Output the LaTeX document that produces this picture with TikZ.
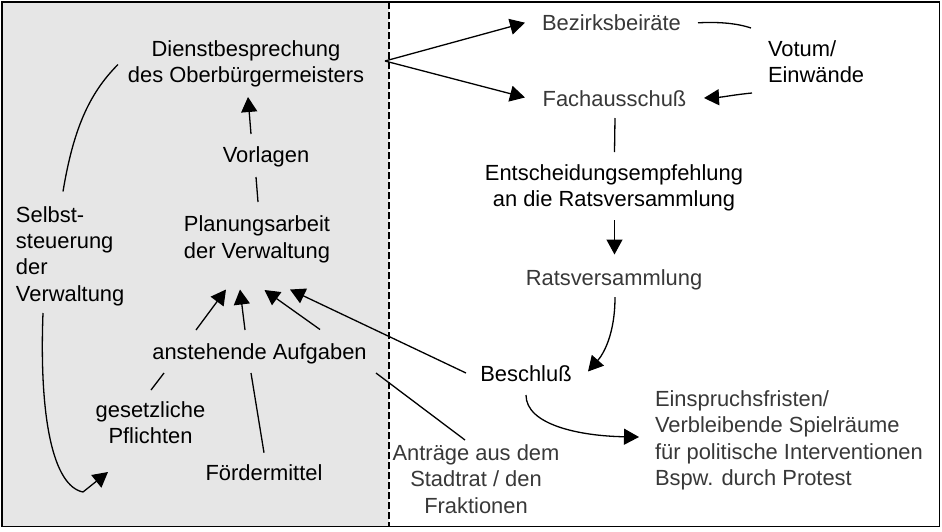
\documentclass[tikz,border=0pt]{standalone}
\usepackage{fontspec}
\setmainfont{Liberation Sans}
\usetikzlibrary{arrows.meta}
\definecolor{panelgray}{HTML}{E6E6E6}
\definecolor{softtext}{HTML}{383838}
\begin{document}
\begin{tikzpicture}[x=1pt,y=-1pt,
  every node/.style={inner sep=0pt,outer sep=0pt,font=\fontsize{21.9}{26.3}\selectfont},
  lbl/.style={align=center,anchor=center},
  lblleft/.style={align=left,anchor=west},
  soft/.style={text=softtext},
  conn/.style={line width=1.3pt,draw=black},
  arr/.style={conn,-{Triangle[length=15pt,width=16pt]}},
]
\useasboundingbox (0,0) rectangle (942,531);
\fill[panelgray] (2,2) rectangle (389,526.5);
\draw[line width=1.2pt,dash pattern=on 7pt off 3pt] (389,2) -- (389,526.5);
\draw[line width=1.6pt] (2,2) rectangle (939.5,526.5);

% left panel nodes
\node[lbl] (dienst) at (246,63.5) {Dienstbesprechung\\des Oberbürgermeisters};
\node[lbl] (vorl) at (266,156.5) {Vorlagen};
\node[lbl] (plan) at (257,239.3) {Planungsarbeit\\der Verwaltung};
\node[lblleft] (selbst) at (16,256) {Selbst-\\steuerung\\der\\Verwaltung};
\node[lbl] (aufg) at (259.5,353.8) {anstehende Aufgaben};
\node[lbl] (gesetz) at (150.5,423) {gesetzliche\\Pflichten};
\node[lbl] (foerder) at (264,472.8) {Fördermittel};

% right panel nodes
\node[lbl,soft] (bezirk) at (611.5,22.3) {Bezirksbeiräte};
\node[lblleft] (votum) at (768,61.4) {Votum/\\Einwände};
\node[lbl,soft] (fach) at (614.5,98.3) {Fachausschuß};
\node[lbl] (entsch) at (614,187.5) {Entscheidungsempfehlung\\an die Ratsversammlung};
\node[lbl,soft] (rats) at (614,279.5) {Ratsversammlung};
\node[lbl] (beschl) at (526,373.3) {Beschluß};
\node[lblleft,soft] (einspr) at (655,440.3) {Einspruchsfristen/\\Verbleibende Spielräume\\für politische Interventionen\\Bspw. durch Protest};
\node[lbl,soft] (antr) at (476,479) {Anträge aus dem\\Stadtrat / den\\Fraktionen};

\coordinate (split) at ([shift={(139,-2.5)}]dienst.center);

% connectors right
\draw[arr] (split) -- ([shift={(-86.5,0.4)}]bezirk.center);
\draw[arr] (split) -- ([shift={(-89.5,-0.8)}]fach.center);
\draw[conn] ([shift={(86.5,0.5)}]bezirk.center) .. controls +(20,-1) and +(-15,-5) .. ([shift={(-17,-33.4)}]votum.west);
\draw[arr] ([shift={(-16,31.6)}]votum.west) .. controls +(-20,2) and +(20,-1) .. ([shift={(89.5,-0.3)}]fach.center);
\draw[conn] ([shift={(0.5,19.7)}]fach.center) -- ([shift={(0.5,-35.5)}]entsch.center);
\draw[arr] ([shift={(0.5,32.5)}]entsch.center) -- ([shift={(0.5,-25)}]rats.center);
\draw[arr] ([shift={(1,17.5)}]rats.center) .. controls +(0,38) and +(15,-17) .. ([shift={(62,-1.8)}]beschl.center);
\draw[arr] ([shift={(0,21.7)}]beschl.center) .. controls +(0,30) and +(-59,-1) .. ([shift={(-16,-3.3)}]einspr.west);
\draw[arr] ([shift={(-60,-0.3)}]beschl.center) -- ([shift={(33,50.2)}]plan.center);
\draw[conn] ([shift={(-11,-39)}]antr.center) -- ([shift={(116.5,19.2)}]aufg.center);

% connectors left
\draw[arr] ([shift={(-63.5,-23.8)}]aufg.center) -- ([shift={(-31,50.2)}]plan.center);
\draw[arr] ([shift={(-14.5,-23.8)}]aufg.center) -- ([shift={(-17,50.2)}]plan.center);
\draw[arr] ([shift={(60.5,-24.3)}]aufg.center) -- ([shift={(7.5,50.7)}]plan.center);
\draw[conn] ([shift={(0.5,-33)}]gesetz.center) -- ([shift={(-95.5,19.2)}]aufg.center);
\draw[conn] ([shift={(0,-20.1)}]foerder.center) -- ([shift={(-8.5,19.2)}]aufg.center);
\draw[conn] ([shift={(1,-37.3)}]plan.center) -- ([shift={(-10,20.5)}]vorl.center);
\draw[arr] ([shift={(-15,-22.5)}]vorl.center) -- ([shift={(2,33.5)}]dienst.center);
\draw[conn] ([shift={(47,-64.5)}]selbst.west) .. controls +(10,-60) and +(-30,30) .. ([shift={(-128,1)}]dienst.center);
\draw[arr] ([shift={(27,57)}]selbst.west) .. controls +(-4,105) and +(-30,-6) .. ([shift={(-67.5,69)}]gesetz.center) -- ([shift={(-42.5,49)}]gesetz.center);
\end{tikzpicture}
\end{document}
